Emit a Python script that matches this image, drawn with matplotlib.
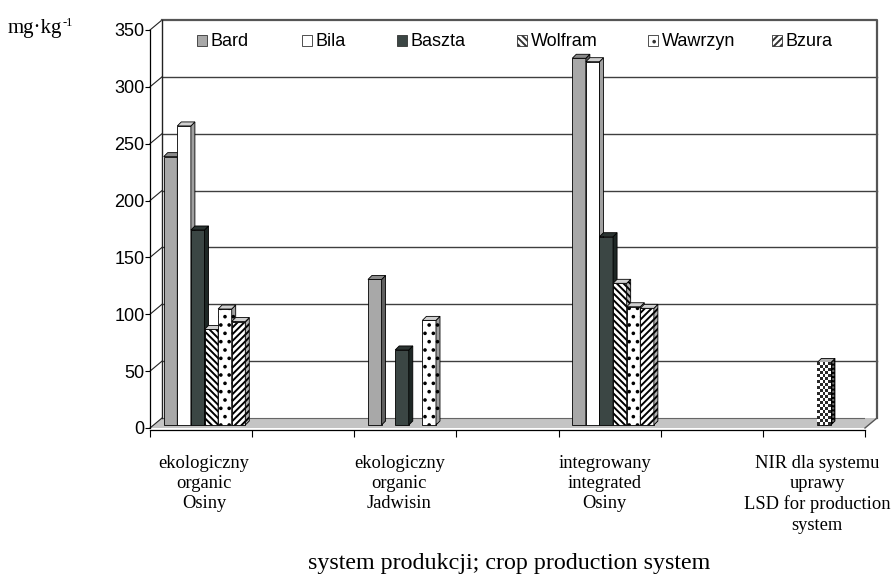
import numpy as np
import matplotlib
matplotlib.use('Agg')
import matplotlib.pyplot as plt
from matplotlib.patches import Patch

plt.rcParams['font.family'] = 'Liberation Sans'
plt.rcParams['hatch.linewidth'] = 1.4

# data (mg/kg)
categories = ['ekologiczny\norganic\nOsiny',
              'ekologiczny\norganic\nJadwisin',
              'integrowany\nintegrated\nOsiny',
              'NIR dla systemu\nuprawy\nLSD for production\nsystem']
cat_slots = [0, 2, 4, 6]
series_names = ['Bard', 'Bila', 'Baszta', 'Wolfram', 'Wawrzyn', 'Bzura']
bard = [236, 128, 322.5, np.nan]
bila = [263, np.nan, 319.5, np.nan]
baszta = [171.5, 66, 165.6, np.nan]
wolfram = [84, np.nan, 124.6, np.nan]
wawrzyn = [102, 92, 104, np.nan]
bzura = [91, np.nan, 102.6, np.nan]
lsd_value = 55          # NIR / LSD bar
lsd_slot = 6
lsd_pos = 3             # sits in the 4th bar position
y_ticks = [0, 50, 100, 150, 200, 250, 300, 350]

values = [bard, bila, baszta, wolfram, wawrzyn, bzura]
label_x = [0.53, 2.44, 4.45, 6.53]          # where the category texts sit
legend_px = [197, 302, 397, 517, 648, 772]  # legend entry positions (pixels)

# face, side, top colours and hatch for each series
styles = [
    dict(fc='#a8a8a8', sc='#606060', tc='#8a8a8a', hatch=None),
    dict(fc='white', sc='#a0a0a0', tc='#d0d0d0', hatch=None),
    dict(fc='#3b4644', sc='#1e2725', tc='#2b3432', hatch=None),
    dict(fc='white', sc='#b0b0b0', tc='#d0d0d0', hatch='\\\\\\\\\\'),
    dict(fc='white', sc='#a0a0a0', tc='#d0d0d0', hatch='..'),
    dict(fc='white', sc='#b0b0b0', tc='#d0d0d0', hatch='/////'),
]

W, H = 894, 577
fig = plt.figure(figsize=(W / 100, H / 100), dpi=100)
ax = fig.add_axes([150 / W, (H - 428) / H, 715 / W, 398 / H])
ax.set_xlim(0, 7)
ax.set_ylim(0, 350)

px = 7 / 715      # slot units per pixel
py = 350 / 398    # value units per pixel
wx, wy = 12 * px, 10 * py        # back wall depth
bdx, bdy = 4 * px, 4 * py        # bar depth
base = 3 * py
g0 = 13.7 * px
bw = 13.6 * px

# walls and floor
ax.fill([0, 7, 7 + wx, wx], [0, 0, wy, wy], color='#c4c4c4', zorder=0.6, lw=0, clip_on=False)
ax.plot([wx, 7 + wx], [wy, wy], color='#666666', lw=0.8, zorder=0.7)
ax.plot([7, 7 + wx], [0, wy], color='#555555', lw=1, zorder=0.7, clip_on=False)
for v in y_ticks[1:-1]:
    ax.plot([wx, 7 + wx], [v + wy, v + wy], color='#3f3f3f', lw=1.0, zorder=0.7, clip_on=False)
for v in y_ticks:
    ax.plot([0, wx], [v, v + wy], color='#222222', lw=0.8, zorder=0.7, clip_on=False)
ax.plot([wx, 7 + wx, 7 + wx], [350 + wy, 350 + wy, wy], color='#555555', lw=1.6,
        zorder=0.8, clip_on=False)
ax.plot([wx, wx], [wy, 350 + wy], color='#222222', lw=1.0, zorder=0.8, clip_on=False)


def draw_bar(x, v, st, z):
    ax.bar(x, v, width=bw, bottom=base, align='edge', color=st['fc'], edgecolor='black',
           lw=0.6, hatch=st['hatch'], zorder=z)
    xr = x + bw
    top = base + v
    ax.fill([xr, xr + bdx, xr + bdx, xr], [base, base + bdy, top + bdy, top],
            facecolor=st['sc'], edgecolor='black', lw=0.6, hatch=st['hatch'], zorder=z)
    ax.fill([x, x + bdx, xr + bdx, xr], [top, top + bdy, top + bdy, top],
            facecolor=st['tc'], edgecolor='black', lw=0.6, zorder=z)


z = 3
for ci, slot in enumerate(cat_slots):
    for si, vals in enumerate(values):
        v = vals[ci]
        if np.isnan(v):
            continue
        draw_bar(slot + g0 + si * bw, v, styles[si], z)
        z += 0.01

# LSD bar with a chequered pattern
xl = lsd_slot + g0 + lsd_pos * bw
lsd_style = dict(fc='white', sc='#707070', tc='#b0b0b0', hatch='++++')
draw_bar(xl, lsd_value, lsd_style, z)
nr = int(round(lsd_value / py / 3))
nc = int(round(bw / px / 3))
chk = (np.add.outer(np.arange(nr), np.arange(nc)) % 2).astype(float)
im = ax.imshow(chk, cmap='gray', extent=[xl, xl + bw, base, base + lsd_value],
               interpolation='nearest', aspect='auto', zorder=z + 0.001, vmin=-0.2, vmax=1)
im.set_clip_path(ax.patches[-3])
ax.set_xlim(0, 7)
ax.set_ylim(0, 350)

# axes
for s in ['top', 'right']:
    ax.spines[s].set_visible(False)
ax.spines['bottom'].set_position(('outward', 1.5))
ax.spines['left'].set_linewidth(0.9)
ax.spines['bottom'].set_linewidth(0.9)
ax.set_xticks(range(8))
ax.set_xticklabels([])
ax.tick_params(axis='x', direction='out', length=5, width=0.8)
ax.set_yticks(y_ticks)
ax.tick_params(axis='y', direction='out', length=3.5, width=0.8, pad=0.5, labelsize=13)

for lx, lab in zip(label_x, categories):
    ax.text(lx, -0.0675, lab, transform=ax.get_xaxis_transform(), ha='center',
            va='top', family='Liberation Serif', fontsize=13.3, linespacing=1.25)

# legend, one entry at a time so the spacing follows the original
for st, name, lpx in zip(styles, series_names, legend_px):
    h = Patch(facecolor=st['fc'], edgecolor='#333333', hatch=st['hatch'], lw=0.6)
    fig.legend([h], [name], loc='center left', bbox_to_anchor=(lpx / W, 1 - 42 / H),
               frameon=False, handlelength=0.55, handleheight=0.55, handletextpad=0.2,
               borderpad=0, borderaxespad=0, fontsize=13)

fig.text(8 / W, 1 - 33 / H, 'mg·kg', family='Liberation Serif', fontsize=15, va='baseline')
fig.text(63 / W, 1 - 26 / H, '-1', family='Liberation Serif', fontsize=9, va='baseline')
fig.text(509 / W, 1 - 569 / H, 'system produkcji; crop production system', family='Liberation Serif',
         fontsize=17.3, ha='center', va='baseline')

fig.savefig('out.png', dpi=100)
